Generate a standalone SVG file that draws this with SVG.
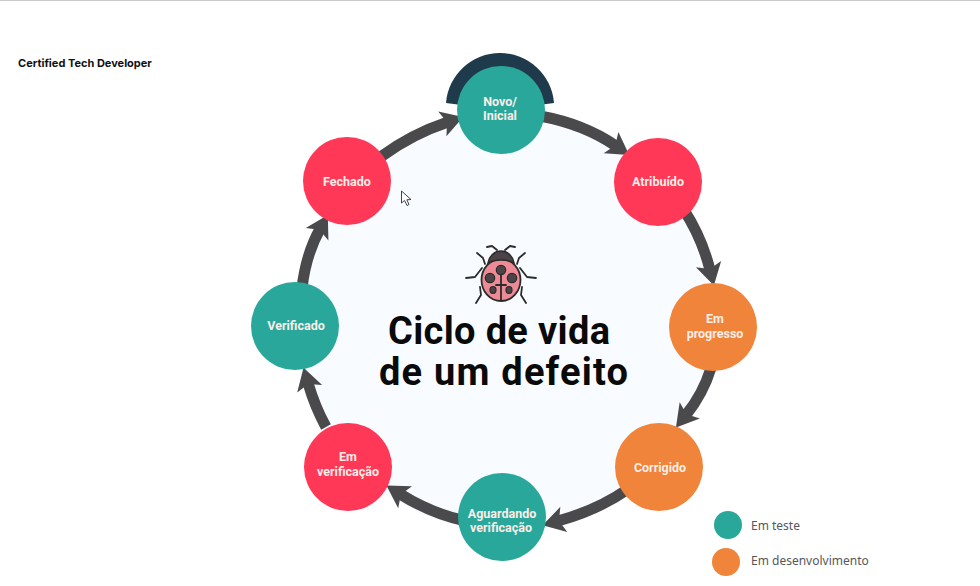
<svg xmlns="http://www.w3.org/2000/svg" width="980" height="586" viewBox="0 0 980 586">
<style>
.t{fill:#2aa79b}.r{fill:#fe3856}.o{fill:#f0843a}
.l{font-family:"Roboto","Liberation Sans",sans-serif;font-weight:700;font-size:12.5px;fill:#fbeee8;text-anchor:middle}
.c{fill:none;stroke:#4a4a4c;stroke-width:11;marker-end:url(#h)}
.h{font-family:"Roboto","Liberation Sans",sans-serif;font-weight:700;font-size:38px;fill:#0a0a0a}
.g{font-family:"Noto Sans","Liberation Sans",sans-serif;font-size:12px;fill:#55575a}
.b{stroke:#2b2b2b;stroke-width:1.800;fill:none;stroke-linecap:round;stroke-linejoin:round}
.s{fill:#4b4346;stroke:#2b2b2b;stroke-width:1.200}
</style>
<defs>
<marker id="h" markerUnits="userSpaceOnUse" markerWidth="40" markerHeight="40" refX="6" refY="20" orient="auto" viewBox="0 0 40 40" overflow="visible">
<path d="M22 20L0 7L5 20L0 33Z" fill="#4a4a4c"/>
</marker>
</defs>
<rect width="980" height="586" fill="#fff"/>
<line x1="0" y1="0.5" x2="980" y2="0.5" stroke="#c9c9c9"/>
<text x="18" y="67" font-family="Inter,'Liberation Sans',sans-serif" font-weight="700" font-size="11px" fill="#111">Certified Tech Developer</text>
<circle id="backdrop" cx="502" cy="322" r="208" fill="#f8fbff"/>
<g id="connectors">
<path class="c" d="M540 116Q584 124 616 146"/>
<path class="c" d="M684 210Q702 238 710 270"/>
<path class="c" d="M711 368Q703 394 686 415"/>
<path class="c" d="M628 489Q598 510 558 521"/>
<path class="c" d="M466 521Q432 514 400 494"/>
<path class="c" d="M326 427Q315 407 308 383"/>
<path class="c" d="M302 288Q306 254 320 229"/>
<path class="c" d="M382 156Q412 134 448 122"/>
</g>
<g id="node-novo">
<path d="M446 103A54.160 54.160 0 0 1 554 103L500 110Z" fill="#1f3a4a"/>
<circle class="t" cx="501" cy="110" r="44"/>
<text class="l" x="500" y="106">Novo/</text><text class="l" x="500" y="120">Inicial</text>
</g>
<g id="node-atribuido"><circle class="r" cx="658" cy="182" r="44"/><text class="l" x="658" y="186">Atribuído</text></g>
<g id="node-progresso"><circle class="o" cx="713" cy="327" r="44"/><text class="l" x="715" y="323">Em</text><text class="l" x="715" y="338">progresso</text></g>
<g id="node-corrigido"><circle class="o" cx="659" cy="467" r="44"/><text class="l" x="660" y="472">Corrigido</text></g>
<g id="node-aguardando"><circle class="t" cx="502" cy="517" r="44"/><text class="l" x="502" y="518">Aguardando</text><text class="l" x="501" y="532">verificação</text></g>
<g id="node-emverificacao"><circle class="r" cx="348" cy="467" r="44"/><text class="l" x="348" y="461">Em</text><text class="l" x="348" y="476">verificação</text></g>
<g id="node-verificado"><circle class="t" cx="295" cy="326" r="44"/><text class="l" x="296" y="330">Verificado</text></g>
<g id="node-fechado"><circle class="r" cx="347" cy="181" r="44"/><text class="l" x="347" y="186">Fechado</text></g>
<g id="title">
<text class="h" x="388" y="344" textLength="222">Ciclo de vida</text>
<text class="h" x="379" y="385" textLength="249">de um defeito</text>
</g>
<g id="ladybug">
<path class="b" d="M487 247L492 246L497 250M515 247L510 246L505 250M477 253L483 258L485 264M525 253L519 258L517 264M466 278L475 277L482 268M536 278L527 277L520 268M476 303L481 295L480 287M526 303L521 295L522 287"/>
<ellipse cx="501" cy="280" rx="19.500" ry="21" fill="#ee8a96" stroke="#2b2b2b" stroke-width="1.800"/>
<path d="M488 263C491 247 511 247 514 263C507 259 495 259 488 263Z" fill="#4b4346" stroke="#2b2b2b" stroke-width="1.500"/>
<path class="b" d="M501 274V300M496 285H506"/>
<circle class="s" cx="501" cy="270" r="4.700"/>
<circle class="s" cx="490" cy="278" r="4.700"/>
<circle class="s" cx="512" cy="278" r="4.700"/>
<ellipse class="s" cx="493" cy="290" rx="3" ry="3.500"/>
<ellipse class="s" cx="509" cy="290" rx="3" ry="3.500"/>
</g>
<g id="legend-teste"><circle class="t" cx="728" cy="525" r="14"/><text class="g" x="751" y="530">Em teste</text></g>
<g id="legend-dev"><circle class="o" cx="726" cy="562" r="14"/><text class="g" x="751" y="565">Em desenvolvimento</text></g>
<path id="cursor" d="M401.500 191V203L404.500 200.500L407 205.500L409 204.500L406.800 199.800L411 199.500Z" fill="#fff" stroke="#444" stroke-width="1"/>
</svg>
